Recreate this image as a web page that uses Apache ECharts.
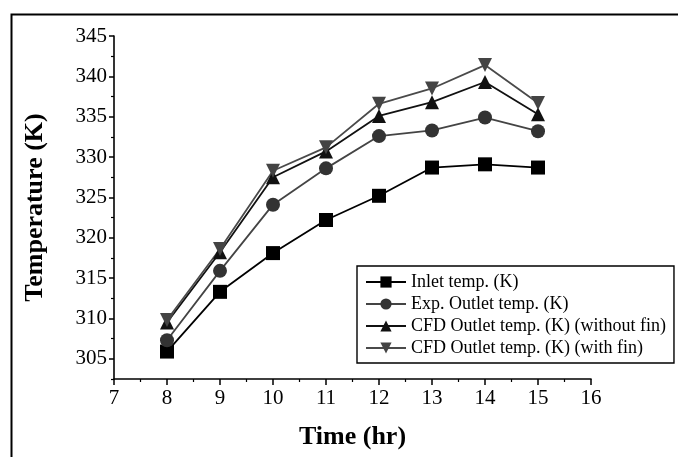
<!DOCTYPE html>
<html>
<head>
<meta charset="utf-8">
<script src="https://cdn.jsdelivr.net/npm/echarts@6/dist/echarts.min.js"></script>
<style>html,body{margin:0;padding:0;background:#fff}#c{width:678px;height:457px}</style>
</head>
<body>
<div id="c"></div>
<script>
const hours = [8, 9, 10, 11, 12, 13, 14, 15];
const inletTemp = [305.9, 313.3, 318.1, 322.2, 325.2, 328.7, 329.1, 328.7];
const expOutletTemp = [307.3, 315.9, 324.1, 328.6, 332.6, 333.3, 334.9, 333.2];
const cfdNoFin = [309.5, 318.2, 327.5, 330.7, 335.1, 336.8, 339.3, 335.3];
const cfdWithFin = [309.8, 318.6, 328.3, 331.2, 336.6, 338.5, 341.4, 336.7];
const seriesNames = ['Inlet temp. (K)', 'Exp. Outlet temp. (K)', 'CFD Outlet temp. (K) (without fin)', 'CFD Outlet temp. (K) (with fin)'];
const yMajorTicks = [305, 310, 315, 320, 325, 330, 335, 340, 345];
const yMinorTicks = [302.5, 307.5, 312.5, 317.5, 322.5, 327.5, 332.5, 337.5, 342.5];

const font = 'Liberation Serif';
const pair = (arr) => hours.map((h, i) => [h, arr[i]]);
const chart = echarts.init(document.getElementById('c'));
function mk(name, data, color, lineColor, symbol, size) {
  return {
    name, type: 'line', data: pair(data), symbol, symbolSize: size,
    itemStyle: { color: color },
    lineStyle: { color: lineColor, width: 1.8 },
    emphasis: { disabled: true }, animation: false, z: 3
  };
}
chart.setOption({
  animation: false,
  graphic: [{ type: 'rect', left: 9, top: 12, shape: { width: 720, height: 500 },
              style: { fill: 'none', stroke: '#000', lineWidth: 2 }, silent: true }],
  grid: { left: 114, top: 36, right: 87, bottom: 78, containLabel: false },
  legend: {
    left: 357, top: 266, orient: 'vertical',
    data: seriesNames,
    borderColor: '#000', borderWidth: 1.4, borderRadius: 0,
    padding: [7, 8, 6, 8], itemGap: 4, itemWidth: 40, itemHeight: 14,
    textStyle: { fontFamily: font, fontSize: 18, color: '#000' },
    backgroundColor: '#fff'
  },
  xAxis: {
    type: 'value', min: 7, max: 16, interval: 1,
    name: 'Time (hr)', nameLocation: 'middle', nameGap: 45,
    nameTextStyle: { fontFamily: font, fontSize: 26, fontWeight: 'bold', color: '#000' },
    axisLine: { lineStyle: { color: '#000', width: 1.6 } },
    axisTick: { inside: false, length: 6, lineStyle: { color: '#000', width: 1.5 } },
    minorTick: { show: true, splitNumber: 2, length: 3, lineStyle: { color: '#000', width: 1.2 } },
    axisLabel: { fontFamily: font, fontSize: 21, color: '#000', margin: 9 },
    splitLine: { show: false }
  },
  yAxis: [{
    type: 'value', min: 302.5, max: 345,
    name: 'Temperature (K)', nameLocation: 'middle', nameGap: 66,
    nameTextStyle: { fontFamily: font, fontSize: 26, fontWeight: 'bold', color: '#000' },
    axisLine: { show: true, lineStyle: { color: '#000', width: 1.6 } },
    axisTick: { show: true, length: 5, customValues: yMajorTicks, lineStyle: { color: '#000', width: 1.5 } },
    axisLabel: { customValues: yMajorTicks, fontFamily: font, fontSize: 21, color: '#000', margin: 7 },
    splitLine: { show: false }
  }, {
    type: 'value', min: 302.5, max: 345, position: 'left',
    axisLine: { show: false },
    axisTick: { show: true, length: 3, customValues: yMinorTicks, lineStyle: { color: '#000', width: 1.2 } },
    axisLabel: { show: false },
    splitLine: { show: false }
  }],
  series: [
    mk(seriesNames[0], inletTemp, '#000', '#000', 'rect', 14),
    mk(seriesNames[1], expOutletTemp, '#333', '#444', 'circle', 14),
    mk(seriesNames[2], cfdNoFin, '#111', '#111', 'triangle', 14),
    Object.assign(mk(seriesNames[3], cfdWithFin, '#444', '#4a4a4a', 'triangle', 14), { symbolRotate: 180 })
  ]
});
</script>
</body>
</html>
